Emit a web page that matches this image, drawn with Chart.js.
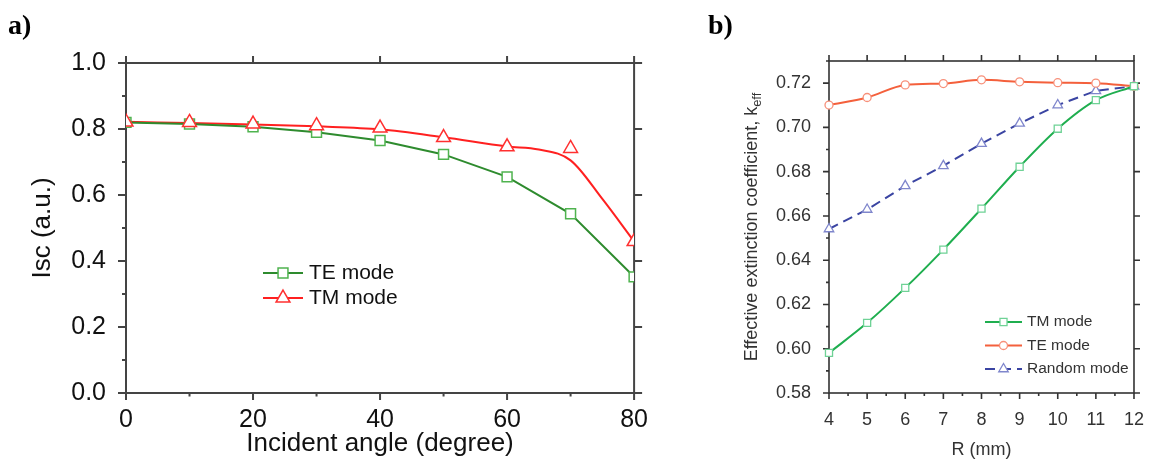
<!DOCTYPE html>
<html>
<head>
<meta charset="utf-8">
<script src="https://cdn.jsdelivr.net/npm/chart.js@4.4.1/dist/chart.umd.min.js"></script>
<style>
body { margin: 0; background: #fff; width: 1160px; height: 461px; overflow: hidden; position: relative; }
.panel { position: absolute; top: 0; height: 461px; }
#wrapA { left: 0; width: 660px; }
#wrapB { left: 700px; width: 460px; }
.tag { position: absolute; top: 9px; line-height: 28px; font: bold 28px "Liberation Serif", serif; color: #000; }
</style>
</head>
<body>
<div class="panel" id="wrapA"><canvas id="chartA"></canvas></div>
<div class="panel" id="wrapB"><canvas id="chartB"></canvas></div>
<div class="tag" style="left:8px">a)</div>
<div class="tag" style="left:708px">b)</div>
<script>
// panel a) data
const angle = [0, 10, 20, 30, 40, 50, 60, 70, 80];
const teA = [0.820, 0.815, 0.807, 0.790, 0.765, 0.723, 0.655, 0.543, 0.352];
const tmA = [0.821, 0.820, 0.815, 0.810, 0.803, 0.774, 0.746, 0.741, 0.459];
// fitted red curve (does not pass through the 70 deg point)
const tmFitX = [0, 10, 20, 30, 40, 50, 60, 65, 70, 75, 80];
const tmFitY = [0.822, 0.818, 0.814, 0.808, 0.799, 0.775, 0.747, 0.738, 0.705, 0.588, 0.459];
const xTicksA = [0, 20, 40, 60, 80];
const yTicksA = [0, 0.2, 0.4, 0.6, 0.8, 1.0];

// panel b) data
const radius = [4, 5, 6, 7, 8, 9, 10, 11, 12];
const tmB = [0.5981, 0.6117, 0.6275, 0.6448, 0.6633, 0.6822, 0.6994, 0.7123, 0.7186];
const teB = [0.7101, 0.7135, 0.7192, 0.7198, 0.7215, 0.7206, 0.7202, 0.7200, 0.7186];
const rndB = [0.6541, 0.6629, 0.6736, 0.6826, 0.6927, 0.7018, 0.7101, 0.7165, 0.7186];
const xTicksB = [4, 5, 6, 7, 8, 9, 10, 11, 12];
const yTicksB = [0.58, 0.60, 0.62, 0.64, 0.66, 0.68, 0.70, 0.72];

const pts = (xs, ys) => xs.map((x, i) => ({ x: x, y: ys[i] }));

//frame + tick marks on all four sides
const frameTicks = {
    id: 'frameTicks',
    beforeDatasetsDraw(chart, args, o) {
        const { ctx, chartArea: a, scales: { x, y } } = chart;
        ctx.save();
        ctx.strokeStyle = o.color;
        ctx.lineWidth = o.width;
        ctx.strokeRect(a.left, a.top, a.right - a.left, a.bottom - a.top);
        ctx.beginPath();
        const n = Math.round((x.max - x.min) / o.xMinor);
        for (let i = 0; i <= n; i++) {
            const v = x.min + i * o.xMinor;
            const px = x.getPixelForValue(v);
            const major = Math.abs(v / o.xMajor - Math.round(v / o.xMajor)) < 1e-6;
            const len = major ? o.xLen : o.xLen / 2;
            ctx.moveTo(px, a.bottom); ctx.lineTo(px, a.bottom + len);
            if (major) { ctx.moveTo(px, a.top); ctx.lineTo(px, a.top - o.xLen); }
        }
        const m = Math.round((y.max - y.min) / o.yMinor);
        for (let i = 0; i <= m; i++) {
            const v = y.min + i * o.yMinor;
            const py = y.getPixelForValue(v);
            const major = Math.abs(v / o.yMajor - Math.round(v / o.yMajor)) < 1e-6;
            const len = major ? o.yLen : o.yLen / 2;
            ctx.moveTo(a.left, py); ctx.lineTo(a.left - len, py);
            if (major) { ctx.moveTo(a.right, py); ctx.lineTo(a.right + o.yLen, py); }
        }
        ctx.stroke();
        ctx.restore();
    }
};

//legend drawn inside the plot
const insideLegend = {
    id: 'insideLegend',
    afterDraw(chart, args, o) {
        const ctx = chart.ctx;
        o.items.forEach((it, i) => {
            const lineDs = chart.data.datasets[it.line];
            const markDs = chart.data.datasets[it.mark];
            const y = o.y + i * o.gap;
            ctx.save();
            ctx.strokeStyle = lineDs.borderColor;
            ctx.lineWidth = lineDs.borderWidth;
            ctx.setLineDash(lineDs.borderDash || []);
            ctx.beginPath();
            ctx.moveTo(o.x, y);
            ctx.lineTo(o.x + o.len, y);
            ctx.stroke();
            ctx.setLineDash([]);
            ctx.fillStyle = '#fff';
            ctx.strokeStyle = markDs.pointBorderColor;
            ctx.lineWidth = markDs.pointBorderWidth;
            Chart.helpers.drawPoint(ctx, { pointStyle: markDs.pointStyle, radius: markDs.pointRadius, borderWidth: markDs.pointBorderWidth, rotation: 0 }, o.x + o.len / 2, y);
            ctx.fillStyle = o.color;
            ctx.font = o.font;
            ctx.textBaseline = 'middle';
            ctx.fillText(markDs.label, o.x + o.len + o.textGap, y);
            ctx.restore();
        });
    }
};

//y title with subscript for panel b
const sideTitle = {
    id: 'sideTitle',
    afterDraw(chart, args, o) {
        const { ctx, chartArea: a } = chart;
        ctx.save();
        ctx.translate(o.x, (a.top + a.bottom) / 2);
        ctx.rotate(-Math.PI / 2);
        ctx.fillStyle = o.color;
        ctx.textBaseline = 'middle';
        ctx.font = o.size + 'px "Liberation Sans", Arial, sans-serif';
        const w1 = ctx.measureText(o.main).width;
        ctx.font = (o.size * 0.72) + 'px "Liberation Sans", Arial, sans-serif';
        const w2 = ctx.measureText(o.sub).width;
        const start = -(w1 + w2) / 2;
        ctx.font = o.size + 'px "Liberation Sans", Arial, sans-serif';
        ctx.fillText(o.main, start, 0);
        ctx.font = (o.size * 0.72) + 'px "Liberation Sans", Arial, sans-serif';
        ctx.fillText(o.sub, start + w1, o.size * 0.3);
        ctx.restore();
    }
};

Chart.defaults.font.family = '"Liberation Sans", Arial, sans-serif';
Chart.defaults.animation = false;

new Chart(document.getElementById('chartA'), {
    type: 'line',
    data: {
        datasets: [
            {
                label: 'TM mode', data: pts(angle, tmA), showLine: false,
                borderColor: '#ff2020', borderWidth: 2,
                pointStyle: 'triangle', pointRadius: 8, pointBorderWidth: 1.5,
                pointBorderColor: '#ff3030', pointBackgroundColor: '#fff', clip: 0
            },
            {
                label: 'TE mode', data: pts(angle, teA),
                borderColor: '#2e8b2e', borderWidth: 2, tension: 0,
                pointStyle: 'rect', pointRadius: 7, pointBorderWidth: 1.5,
                pointBorderColor: '#4fb34f', pointBackgroundColor: '#fff', clip: 0
            },
            {
                label: 'TM fit', data: pts(tmFitX, tmFitY),
                borderColor: '#ff2020', borderWidth: 2, cubicInterpolationMode: 'monotone',
                pointRadius: 0, clip: 0
            }
        ]
    },
    options: {
        responsive: true,
        maintainAspectRatio: false,
        layout: { padding: { left: 0, top: 63, right: 25, bottom: 0 } },
        plugins: {
            legend: { display: false },
            tooltip: { enabled: false },
            frameTicks: { color: '#444', width: 2, xMajor: 20, xMinor: 10, xLen: 7, yMajor: 0.2, yMinor: 0.1, yLen: 8 },
            insideLegend: {
                x: 263, y: 273, gap: 25, len: 40, textGap: 6, color: '#111',
                font: '21px "Liberation Sans", Arial, sans-serif',
                items: [{ line: 1, mark: 1 }, { line: 2, mark: 0 }]
            }
        },
        scales: {
            x: {
                type: 'linear', min: 0, max: 80,
                grid: { display: false, drawTicks: false }, border: { display: false },
                afterBuildTicks: s => { s.ticks = xTicksA.map(v => ({ value: v })); },
                afterFit: s => { s.height = 68; },
                ticks: { font: { size: 25 }, color: '#111', padding: 12, maxRotation: 0 },
                title: { display: true, text: 'Incident angle (degree)', font: { size: 26 }, color: '#111', padding: { top: 0, bottom: 2 } }
            },
            y: {
                type: 'linear', min: 0, max: 1,
                grid: { display: false, drawTicks: false }, border: { display: false },
                afterBuildTicks: s => { s.ticks = yTicksA.map(v => ({ value: v })); },
                afterFit: s => { s.width = 126; },
                ticks: { font: { size: 25 }, color: '#111', padding: 20, callback: v => v.toFixed(1) },
                title: { display: true, text: 'Isc (a.u.)', font: { size: 26 }, color: '#111', padding: { top: 27, bottom: 0 } }
            }
        }
    },
    plugins: [frameTicks, insideLegend]
});

new Chart(document.getElementById('chartB'), {
    type: 'line',
    data: {
        datasets: [
            {
                label: 'TM mode', data: pts(radius, tmB),
                borderColor: '#1fae4f', borderWidth: 2, cubicInterpolationMode: 'monotone',
                pointStyle: 'rect', pointRadius: 5, pointBorderWidth: 1.3,
                pointBorderColor: '#6fd296', pointBackgroundColor: '#fff', clip: false
            },
            {
                label: 'TE mode', data: pts(radius, teB),
                borderColor: '#f4603c', borderWidth: 2, cubicInterpolationMode: 'monotone',
                pointStyle: 'circle', pointRadius: 4, pointBorderWidth: 1.3,
                pointBorderColor: '#f7907a', pointBackgroundColor: '#fff', clip: false
            },
            {
                label: 'Random mode', data: pts(radius, rndB),
                borderColor: '#3a44a2', borderWidth: 2, borderDash: [10, 6], tension: 0,
                pointStyle: 'triangle', pointRadius: 5.5, pointBorderWidth: 1.3,
                pointBorderColor: '#7f86cc', pointBackgroundColor: '#fff', clip: false
            }
        ]
    },
    options: {
        responsive: true,
        maintainAspectRatio: false,
        layout: { padding: { left: 0, top: 61, right: 14, bottom: 0 } },
        plugins: {
            legend: { display: false },
            tooltip: { enabled: false },
            frameTicks: { color: '#333', width: 1.6, xMajor: 1, xMinor: 0.5, xLen: 6, yMajor: 0.02, yMinor: 0.01, yLen: 6 },
            insideLegend: {
                x: 285, y: 322, gap: 23.5, len: 37, textGap: 5, color: '#333',
                font: '15.5px "Liberation Sans", Arial, sans-serif',
                items: [{ line: 0, mark: 0 }, { line: 1, mark: 1 }, { line: 2, mark: 2 }]
            },
            sideTitle: { x: 52, size: 18, color: '#333', main: 'Effective extinction coefficient, k', sub: 'eff' }
        },
        scales: {
            x: {
                type: 'linear', min: 4, max: 12,
                grid: { display: false, drawTicks: false }, border: { display: false },
                afterBuildTicks: s => { s.ticks = xTicksB.map(v => ({ value: v })); },
                afterFit: s => { s.height = 68; },
                ticks: { font: { size: 18 }, color: '#333', padding: 16, maxRotation: 0 },
                title: { display: true, text: 'R (mm)', font: { size: 18 }, color: '#333', padding: { top: 0, bottom: 0 } }
            },
            y: {
                type: 'linear', min: 0.58, max: 0.73,
                grid: { display: false, drawTicks: false }, border: { display: false },
                afterBuildTicks: s => { s.ticks = yTicksB.map(v => ({ value: v })); },
                afterFit: s => { s.width = 129; },
                ticks: { font: { size: 18 }, color: '#333', padding: 18, callback: v => v.toFixed(2) }
            }
        }
    },
    plugins: [frameTicks, insideLegend, sideTitle]
});
</script>
</body>
</html>
